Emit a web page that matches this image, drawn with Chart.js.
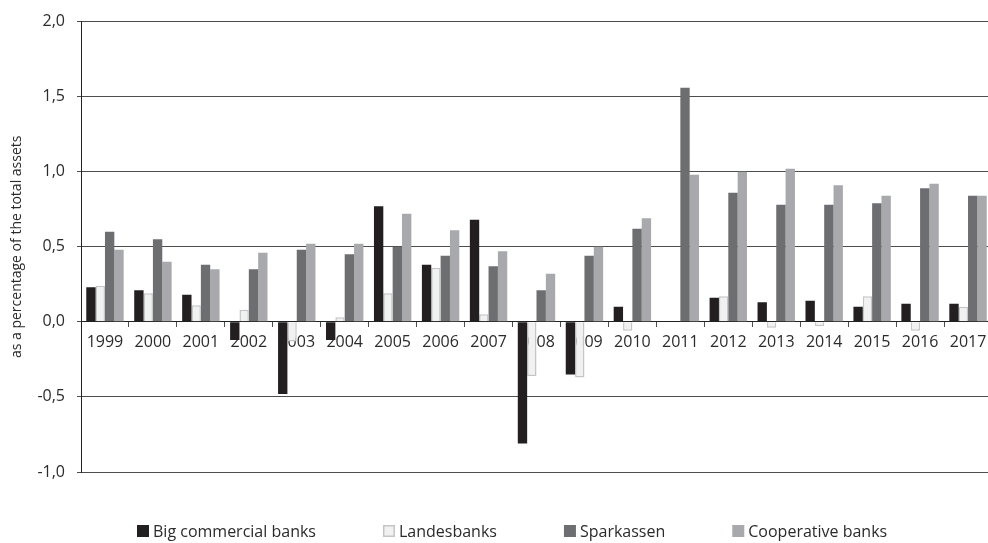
<!DOCTYPE html>
<html>
<head>
<meta charset="utf-8">
<script src="https://cdn.jsdelivr.net/npm/chart.js@4.4.1/dist/chart.umd.min.js"></script>
<style>
  html, body { margin: 0; padding: 0; background: #fff; overflow: hidden; }
  #wrap { width: 993px; height: 543px; }
</style>
</head>
<body>
<div id="wrap"><canvas id="myChart" width="993" height="543"></canvas></div>
<script>
const years = ['1999', '2000', '2001', '2002', '2003', '2004', '2005', '2006', '2007', '2008',
  '2009', '2010', '2011', '2012', '2013', '2014', '2015', '2016', '2017'];

const bigCommercial = [0.23, 0.21, 0.18, -0.12, -0.48, -0.12, 0.77, 0.38, 0.68, -0.81,
  -0.35, 0.10, 0, 0.16, 0.13, 0.14, 0.10, 0.12, 0.12];
const landesbanks = [0.24, 0.19, 0.11, 0.08, -0.13, 0.03, 0.19, 0.36, 0.05, -0.36,
  -0.37, -0.06, 0, 0.17, -0.04, -0.03, 0.17, -0.06, 0.10];
const sparkassen = [0.60, 0.55, 0.38, 0.35, 0.48, 0.45, 0.50, 0.44, 0.37, 0.21,
  0.44, 0.62, 1.56, 0.86, 0.78, 0.78, 0.79, 0.89, 0.84];
const cooperative = [0.48, 0.40, 0.35, 0.46, 0.52, 0.52, 0.72, 0.61, 0.47, 0.32,
  0.50, 0.69, 0.98, 1.00, 1.02, 0.91, 0.84, 0.92, 0.84];

const yTicks = [-1.0, -0.5, 0.0, 0.5, 1.0, 1.5, 2.0];

const FONT = "'Open Sans', 'DejaVu Sans', sans-serif";
const TEXT = '#2b2b2b';
const GRID = '#4d4d4d';

// legend drawn by hand so the spacing matches the original
const legendPlugin = {
    id: 'manualLegend',
    afterDraw(chart) {
        const ctx = chart.ctx;
        const y = 531;
        let x = 137;
        const box = 12;
        ctx.save();
        ctx.font = '16px ' + FONT;
        ctx.textBaseline = 'middle';
        ctx.textAlign = 'left';
        chart.data.datasets.forEach(ds => {
            ctx.fillStyle = ds.backgroundColor;
            ctx.fillRect(x, y - box / 2, box, box);
            if (ds.borderWidth) {
                ctx.strokeStyle = ds.borderColor;
                ctx.lineWidth = 1.5;
                ctx.strokeRect(x + 0.75, y - box / 2 + 0.75, box - 1.5, box - 1.5);
            }
            ctx.fillStyle = TEXT;
            ctx.fillText(ds.label, x + box + 4, y + 1);
            x += box + 4 + ctx.measureText(ds.label).width + 67;
        });
        ctx.restore();
    }
};

const ctx = document.getElementById('myChart').getContext('2d');
new Chart(ctx, {
    type: 'bar',
    data: {
        labels: years,
        datasets: [
            { label: 'Big commercial banks', data: bigCommercial, backgroundColor: '#231f20', borderWidth: 0 },
            { label: 'Landesbanks', data: landesbanks, backgroundColor: '#f1f1f2', borderColor: '#c4c5c7', borderWidth: 1.5 },
            { label: 'Sparkassen', data: sparkassen, backgroundColor: '#6d6e71', borderWidth: 0 },
            { label: 'Cooperative banks', data: cooperative, backgroundColor: '#a7a9ac', borderWidth: 0 }
        ]
    },
    options: {
        responsive: false,
        animation: false,
        categoryPercentage: 0.78,
        barPercentage: 1.0,
        layout: { padding: { top: 19, right: 1, bottom: 71, left: 0 } },
        plugins: {
            legend: { display: false },
            tooltip: { enabled: false }
        },
        scales: {
            x: {
                position: { y: 0 },
                grid: {
                    offset: true,
                    drawOnChartArea: false,
                    drawTicks: true,
                    tickLength: 5,
                    color: GRID
                },
                border: { color: '#222', width: 1 },
                ticks: {
                    color: TEXT,
                    padding: 6,
                    maxRotation: 0,
                    autoSkip: false,
                    font: { family: FONT, size: 16 }
                }
            },
            y: {
                min: -1,
                max: 2,
                afterBuildTicks(axis) {
                    axis.ticks = yTicks.map(v => ({ value: v }));
                },
                afterFit(axis) {
                    axis.width = 81;
                },
                grid: {
                    color: GRID,
                    lineWidth: 1,
                    drawTicks: true,
                    tickLength: 4
                },
                border: { color: '#222', width: 1 },
                ticks: {
                    color: TEXT,
                    padding: 12,
                    font: { family: FONT, size: 16 },
                    callback: v => v.toFixed(1).replace('.', ',')
                },
                title: {
                    display: true,
                    text: 'as a percentage of the total assets',
                    color: TEXT,
                    padding: { top: 9, bottom: 0 },
                    font: { family: FONT, size: 14 }
                }
            }
        }
    },
    plugins: [legendPlugin]
});
</script>
</body>
</html>
